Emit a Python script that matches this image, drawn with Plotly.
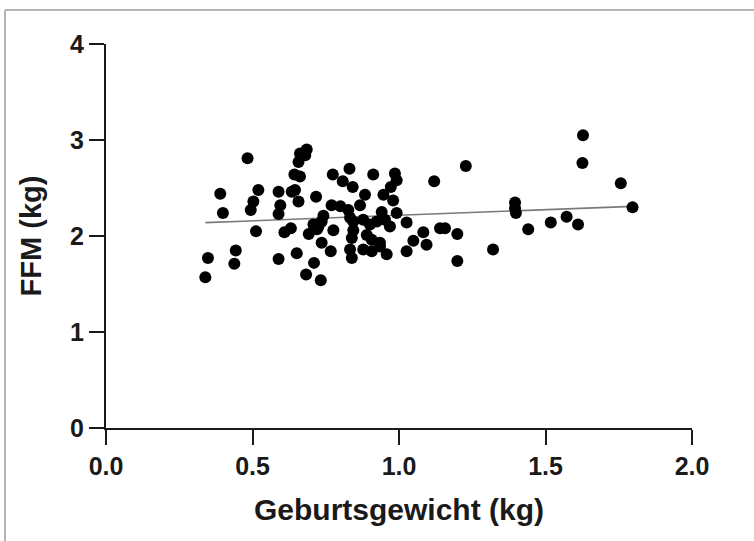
import plotly.graph_objects as go

# Birth weight (kg) and fat-free mass (kg) per infant
birth_weight = [
    0.339, 0.348, 0.390, 0.399, 0.438, 0.443, 0.483, 0.494, 0.503, 0.520,
    0.512, 0.589, 0.595, 0.589, 0.589, 0.609, 0.631, 0.634, 0.645, 0.643,
    0.657, 0.662, 0.685, 0.680, 0.662, 0.657, 0.651, 0.683, 0.710, 0.733,
    0.717, 0.736, 0.767, 0.720, 0.692, 0.725, 0.742, 0.770, 0.774, 0.776,
    0.800, 0.808, 0.831, 0.842, 0.827, 0.833, 0.844, 0.844, 0.867, 0.884,
    0.878, 0.901, 0.912, 0.924, 0.947, 0.952, 0.941, 0.969, 0.980, 0.972,
    0.986, 0.992, 0.992, 0.839, 0.890, 0.907, 0.935, 0.935, 0.833, 0.839,
    0.878, 0.907, 0.958, 1.026, 1.026, 1.049, 1.083, 1.094, 1.120, 1.140,
    1.157, 1.199, 1.199, 1.228, 1.321, 1.396, 1.396, 1.399, 1.441, 1.518,
    1.572, 1.611, 1.626, 1.628, 1.757, 1.797, 0.708, 0.736,
]
ffm = [
    1.57, 1.77, 2.44, 2.24, 1.71, 1.85, 2.81, 2.27, 2.36, 2.48,
    2.05, 2.46, 2.32, 2.23, 1.76, 2.04, 2.08, 2.46, 2.48, 2.64,
    2.77, 2.86, 2.90, 2.84, 2.62, 2.36, 1.82, 1.60, 1.72, 1.54,
    2.41, 1.93, 1.84, 2.07, 2.02, 2.10, 2.21, 2.32, 2.64, 2.06,
    2.31, 2.57, 2.70, 2.51, 2.27, 2.19, 2.15, 2.06, 2.32, 2.43,
    2.17, 2.12, 2.64, 2.15, 2.43, 2.17, 2.25, 2.10, 2.37, 2.51,
    2.65, 2.58, 2.24, 1.98, 2.01, 1.96, 1.93, 1.89, 1.86, 1.77,
    1.86, 1.84, 1.81, 2.14, 1.84, 1.95, 2.04, 1.91, 2.57, 2.08,
    2.08, 2.02, 1.74, 2.73, 1.86, 2.35, 2.29, 2.24, 2.07, 2.14,
    2.20, 2.12, 2.76, 3.05, 2.55, 2.30, 2.12, 2.15,
]

# Linear regression line (intercept, slope)
fit_intercept = 2.10
fit_slope = 0.116

x_ticks = [0.0, 0.5, 1.0, 1.5, 2.0]
x_tick_text = ["0.0", "0.5", "1.0", "1.5", "2.0"]
y_ticks = [0, 1, 2, 3, 4]

x_title = "Geburtsgewicht (kg)"
y_title = "FFM (kg)"

W, H = 754, 541
L, R, T, B = 106, 62, 44, 113
pw, ph = W - L - R, H - T - B

def px_to_paper_x(px):
    return (px - L) / pw

def py_to_paper_y(py):
    return (T + ph - py) / ph

fit_x = [min(birth_weight), max(birth_weight)]
fit_y = [fit_intercept + fit_slope * v for v in fit_x]

font_family = "Liberation Sans, Arial, Helvetica, sans-serif"
ink = "#1a1a1a"

fig = go.Figure()
fig.add_trace(go.Scatter(
    x=fit_x, y=fit_y, mode="lines",
    line=dict(color="#7a7a7a", width=1.6),
    hoverinfo="skip", showlegend=False,
))
fig.add_trace(go.Scatter(
    x=birth_weight, y=ffm, mode="markers",
    marker=dict(color="black", size=12, line=dict(width=0)),
    showlegend=False,
))

axis_common = dict(
    showgrid=False, zeroline=False, showline=True,
    linecolor=ink, linewidth=2,
    ticks="outside", ticklen=15, tickwidth=2, tickcolor=ink,
    tickfont=dict(family=font_family, size=25, color=ink, weight="bold"),
)

fig.update_layout(
    width=W, height=H,
    margin=dict(l=L, r=R, t=T, b=B, pad=0),
    paper_bgcolor="white", plot_bgcolor="white",
    xaxis=dict(
        range=[0, 2], tickvals=x_ticks, ticktext=x_tick_text,
        title=dict(text=x_title, standoff=20,
                   font=dict(family=font_family, size=30, color=ink, weight="bold")),
        **axis_common,
    ),
    yaxis=dict(
        range=[0, 4], tickvals=y_ticks,
        title=dict(text=y_title, standoff=20,
                   font=dict(family=font_family, size=29, color=ink, weight="bold")),
        **axis_common,
    ),
    shapes=[
        # thin frame along the top and left edges
        dict(type="line", xref="paper", yref="paper",
             x0=px_to_paper_x(5), x1=px_to_paper_x(W), y0=py_to_paper_y(10), y1=py_to_paper_y(10),
             line=dict(color="#b5b5b5", width=2)),
        dict(type="line", xref="paper", yref="paper",
             x0=px_to_paper_x(5), x1=px_to_paper_x(5), y0=py_to_paper_y(10), y1=py_to_paper_y(H),
             line=dict(color="#b5b5b5", width=2)),
    ],
)

fig.write_html("out.html")
